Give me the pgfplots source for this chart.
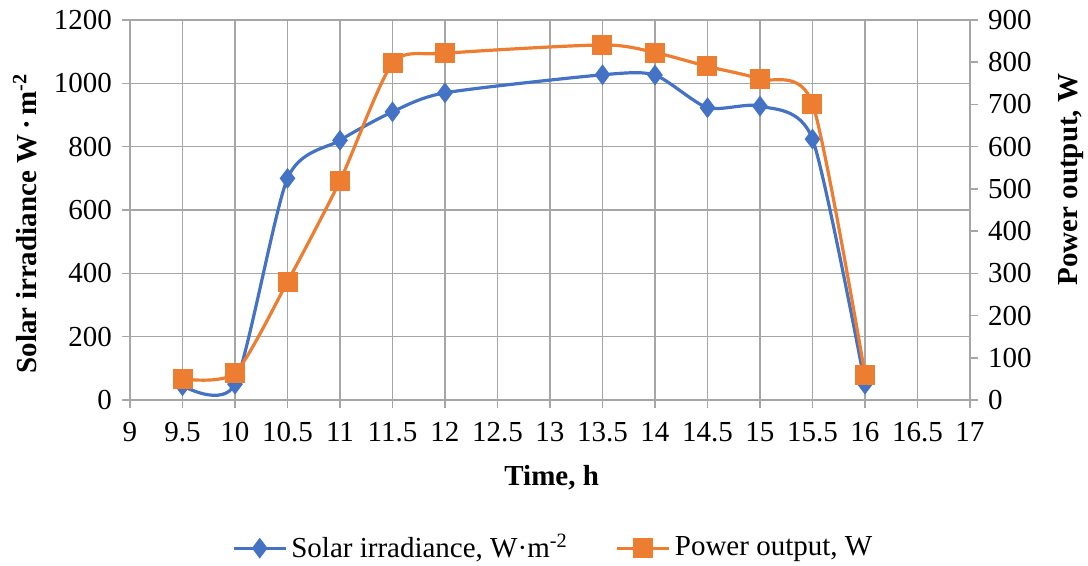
\documentclass[border=0pt]{standalone}
\usepackage{pgfplots}
\pgfplotsset{compat=1.18}
\usepackage{fontspec}
\setmainfont{Liberation Serif}

\definecolor{sblue}{HTML}{4472C4}
\definecolor{sorange}{HTML}{ED7D31}
\definecolor{gridgray}{HTML}{A6A6A6}

\pgfplotsset{
  base/.style={
    scale only axis, width=420pt, height=190pt,
    xmin=9, xmax=17,
    /pgf/number format/assume math mode=true,
    /pgf/number format/1000 sep={},
    tick label style={font=\fontsize{14.5}{17}\selectfont},
    label style={font=\fontsize{14.5}{17}\selectfont\bfseries},
    axis line style={gridgray, line width=0.75pt},
    tick style={gridgray, line width=0.75pt},
    tick align=outside, major tick length=4pt,
  },
  irr/.style={sblue, line width=1.6pt, smooth, tension=0.42, mark=diamond*, mark size=3.9pt, mark options={solid}},
  pow/.style={sorange, line width=1.6pt, smooth, tension=0.42, mark=square*, mark size=4.2pt, mark options={solid}},
}

\begin{document}
\fontsize{14.5}{17}\selectfont
\begin{tikzpicture}
\useasboundingbox (-65pt,-83pt) rectangle (479pt,200pt);

\begin{axis}[base,
  ymin=0, ymax=1200, ytick={0,200,400,600,800,1000,1200},
  xtick={9,9.5,10,10.5,11,11.5,12,12.5,13,13.5,14,14.5,15,15.5,16,16.5,17},
  axis y line*=left, axis x line*=bottom,
  xmajorgrids, ymajorgrids,
  grid style={gridgray, line width=0.75pt},
  xticklabel style={yshift=-2pt},
  xlabel={Time, h},
  xlabel style={at={(axis description cs:0.502,-0.205)}, anchor=center},
  ylabel={Solar irradiance W\,·\,m\textsuperscript{-2}},
  ylabel style={at={(axis description cs:-0.125,0.465)}, anchor=center},
]
\addplot[irr] coordinates {
  (9.5,45) (10,50) (10.5,700) (11,820) (11.5,910) (12,970)
  (13.5,1027) (14,1026) (14.5,923) (15,928) (15.5,824) (16,50)
};
\end{axis}

\begin{axis}[base,
  ymin=0, ymax=900, ytick={0,100,200,300,400,500,600,700,800,900},
  axis y line*=right, axis x line=none,
  ylabel={Power output, W},
  ylabel style={at={(axis description cs:1.12,0.58)}, anchor=center},
  legend columns=2,
  legend style={draw=none, at={(0.505,-0.39)}, anchor=center,
    font=\fontsize{14.5}{17}\selectfont,
    /tikz/every even column/.append style={column sep=22pt}},
  legend image code/.code={
    \draw[mark repeat=2, mark phase=2, #1] plot coordinates {(0pt,0pt) (13pt,0pt) (26pt,0pt)};},
]
\addlegendimage{irr}
\addlegendentry{Solar irradiance, W·m\textsuperscript{-2}}
\addplot[pow] coordinates {
  (9.5,50) (10,64) (10.5,280) (11,519) (11.5,797) (12,821)
  (13.5,841) (14,823) (14.5,790) (15,760) (15.5,702) (16,60)
};
\addlegendentry{Power output, W}
\end{axis}
\end{tikzpicture}
\end{document}
